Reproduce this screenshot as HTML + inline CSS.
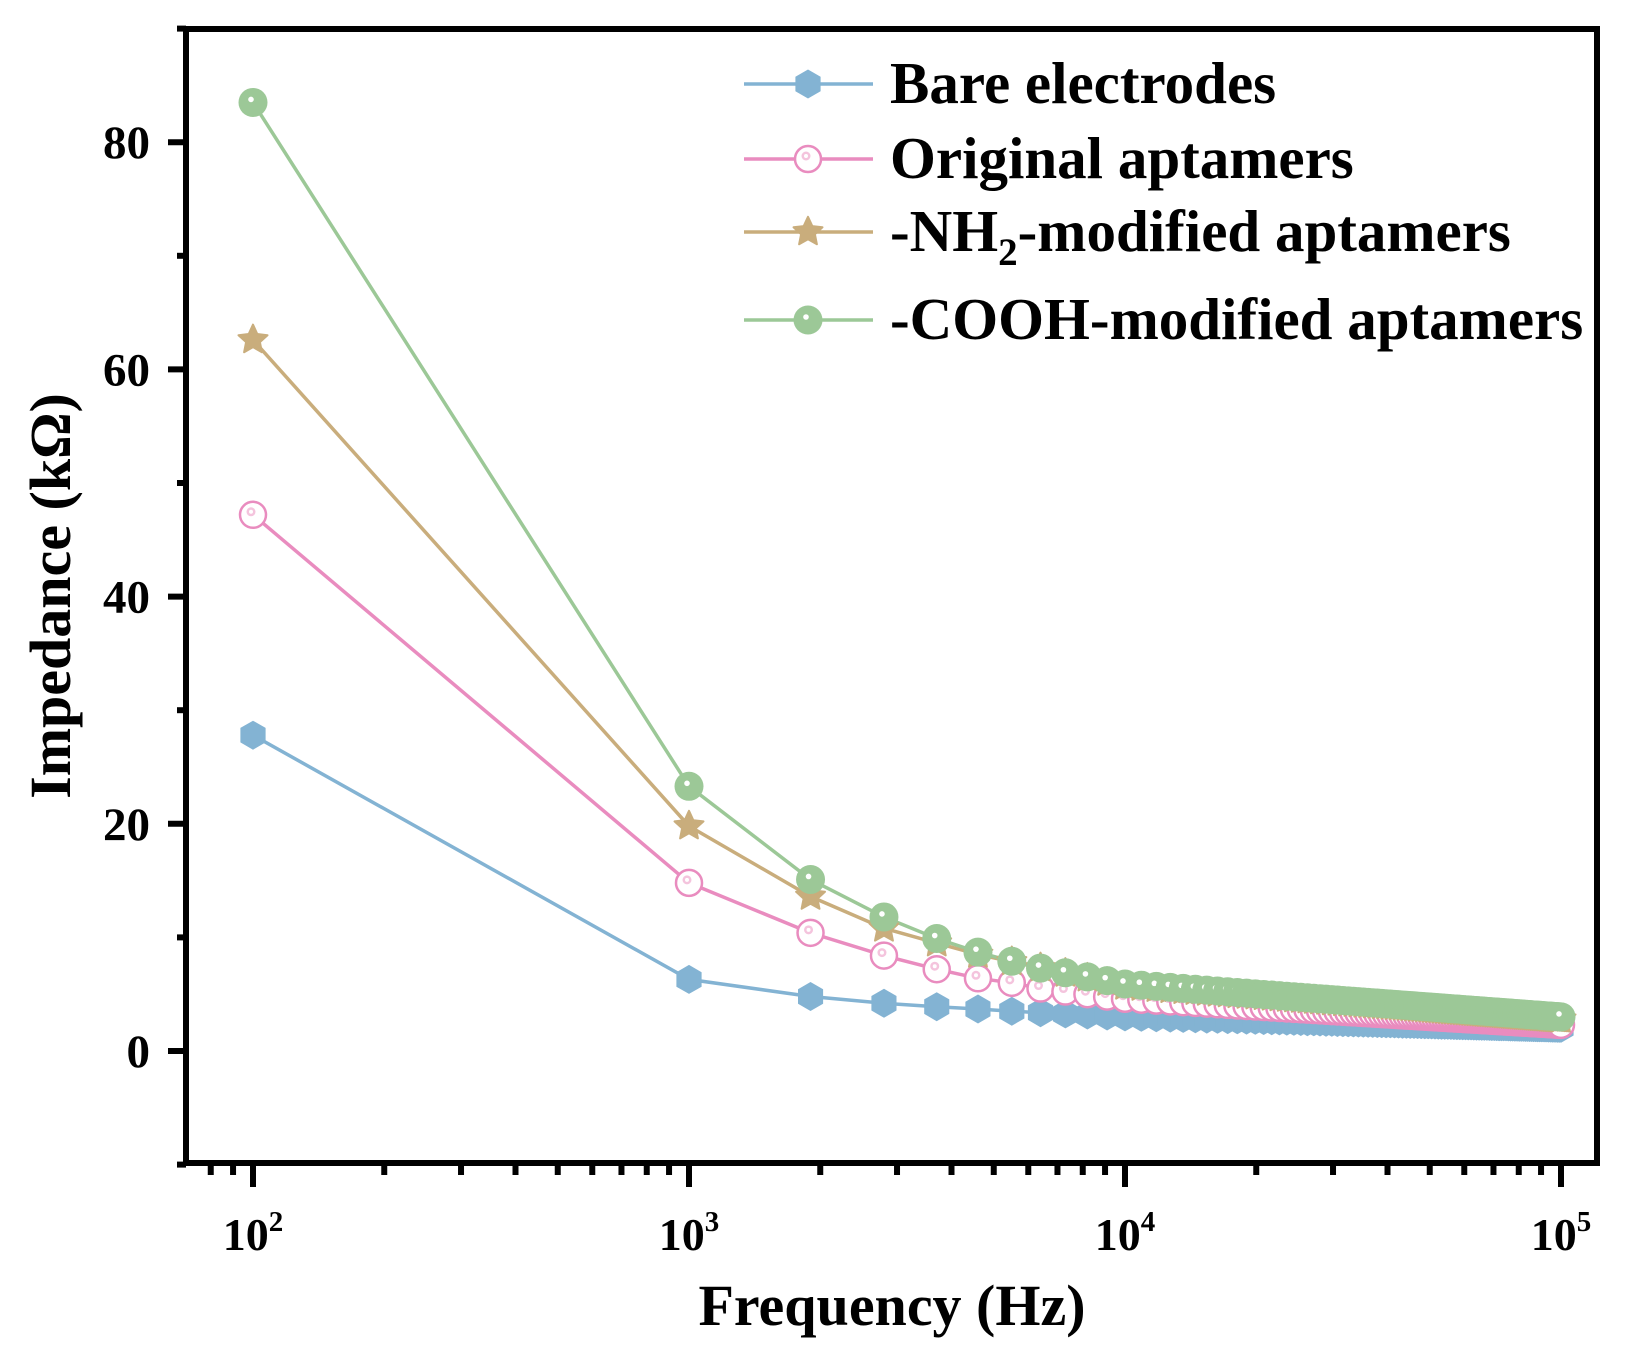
<!DOCTYPE html>
<html><head><meta charset="utf-8"><style>
html,body{margin:0;padding:0;background:#fff;}
svg{display:block;}
text{font-family:"Liberation Serif",serif;font-weight:bold;fill:#000;}
</style></head><body>
<svg id="s" width="1637" height="1348" viewBox="0 0 1637 1348" xmlns="http://www.w3.org/2000/svg">
<g id="data"></g>
<rect x="186" y="29" width="1411" height="1134" fill="none" stroke="#000" stroke-width="6"/>
<g id="ticks" stroke="#000" stroke-width="6"></g>
<g id="ylab" font-size="47"></g>
<g font-size="46">
<text x="253" y="1250" text-anchor="middle">10<tspan font-size="29" dy="-19">2</tspan></text>
<text x="689" y="1250" text-anchor="middle">10<tspan font-size="29" dy="-19">3</tspan></text>
<text x="1125" y="1250" text-anchor="middle">10<tspan font-size="29" dy="-19">4</tspan></text>
<text x="1561" y="1250" text-anchor="middle">10<tspan font-size="29" dy="-19">5</tspan></text>
</g>
<text x="892" y="1325" font-size="58" text-anchor="middle">Frequency (Hz)</text>
<text transform="translate(70,596) rotate(-90)" font-size="58" text-anchor="middle">Impedance (kΩ)</text>
<g id="legend"></g>
<g font-size="59">
<text x="890" y="103">Bare electrodes</text>
<text x="890" y="178">Original aptamers</text>
<text x="890" y="251">-NH<tspan font-size="39" dy="14">2</tspan><tspan dy="-14">-modified aptamers</tspan></text>
<text x="890" y="339">-COOH-modified aptamers</text>
</g>
</svg>
<script>
const NS="http://www.w3.org/2000/svg";
function X(f){return 253+(Math.log10(f)-2)*436;}
function Y(v){return 1051-v*11.36;}
function el(t,a,p){const e=document.createElementNS(NS,t);for(const k in a)e.setAttribute(k,a[k]);p.appendChild(e);return e;}
const tk=document.getElementById('ticks');
for(let v=-10;v<=90;v+=10){const maj=v%20==0;el('line',{x1:186-(maj?18:9),x2:186,y1:Y(v),y2:Y(v)},tk);}
const yl=document.getElementById('ylab');
[0,20,40,60,80].forEach(v=>{const t=el('text',{x:150,y:Y(v)+16,'text-anchor':'end'},yl);t.textContent=v;});
for(let d=1;d<=5;d++){for(let m=1;m<10;m++){const f=m*Math.pow(10,d);const x=X(f);if(x<186||x>1597)continue;el('line',{x1:x,x2:x,y1:1163,y2:1163+(m==1?24:12)},tk);}}
const fr=[100,1000];for(let f=1900;f<=100000;f+=900)fr.push(f);if(fr[fr.length-1]!=100000)fr.push(100000);
function interp(anch,f){const lf=Math.log10(f);for(let i=0;i<anch.length-1;i++){const a=anch[i],b=anch[i+1];const la=Math.log10(a[0]),lb=Math.log10(b[0]);if(lf>=la&&lf<=lb){const t=(lf-la)/(lb-la);return a[1]+t*(b[1]-a[1]);}}return anch[anch.length-1][1];}
const S=[
{c:'#83b3d3',m:'hex',a:[[100,27.8],[1000,6.3],[1900,4.8],[2800,4.2],[3700,3.9],[4600,3.7],[5500,3.5],[10000,3.0],[100000,2.0]]},
{c:'#e98cbf',m:'ocirc',a:[[100,47.2],[1000,14.8],[1900,10.4],[2800,8.4],[3700,7.2],[4600,6.4],[5500,6.0],[6400,5.5],[10000,4.6],[100000,2.3]]},
{c:'#c9ad7c',m:'star',a:[[100,62.6],[1000,19.8],[1900,13.6],[2800,10.8],[3700,9.5],[4600,8.5],[10000,5.7],[100000,2.8]]},
{c:'#9cc897',m:'circ',a:[[100,83.5],[1000,23.3],[1900,15.1],[2800,11.8],[3700,9.9],[4600,8.7],[5500,7.9],[6400,7.3],[10000,5.9],[100000,3.0]]}];
function marker(m,x,y,c,r,g){
 if(m=='hex'){let p=[];for(let i=0;i<6;i++){const a=Math.PI/3*i-Math.PI/2;p.push((x+r*Math.cos(a)).toFixed(1)+','+(y+r*Math.sin(a)).toFixed(1));}el('polygon',{points:p.join(' '),fill:c},g);}
 else if(m=='ocirc'){el('circle',{cx:x,cy:y,r:r-1.5,fill:'#fff',stroke:c,'stroke-width':2.5},g);el('circle',{cx:x-2,cy:y-3,r:4.5,fill:'#f4c4dd'},g);el('circle',{cx:x-2,cy:y-3,r:2,fill:'#fff'},g);}
 else if(m=='star'){let p=[];for(let i=0;i<10;i++){const rr=i%2?r*0.5:r*1.05;const a=Math.PI/5*i-Math.PI/2;p.push((x+rr*Math.cos(a)).toFixed(1)+','+(y+rr*Math.sin(a)).toFixed(1));}el('polygon',{points:p.join(' '),fill:c,'stroke':c,'stroke-width':2,'stroke-linejoin':'round'},g);}
 else {el('circle',{cx:x,cy:y,r:r,fill:c},g);el('circle',{cx:x-2,cy:y-3,r:2.8,fill:'#fff'},g);}
}
const dg=document.getElementById('data');
S.forEach(s=>{const pts=fr.map(f=>[X(f),Y(interp(s.a,f))]);el('polyline',{points:pts.map(p=>p[0].toFixed(1)+','+p[1].toFixed(1)).join(' '),fill:'none',stroke:s.c,'stroke-width':3.5},dg);});
S.forEach(s=>{const g=el('g',{},dg);fr.forEach(f=>marker(s.m,X(f),Y(interp(s.a,f)),s.c,14.5,g));});
const lg=document.getElementById('legend');const ly=[84,159,232,320];
S.forEach((s,i)=>{el('line',{x1:744,x2:873,y1:ly[i],y2:ly[i],stroke:s.c,'stroke-width':3.5},lg);marker(s.m,808,ly[i],s.c,14.5,lg);});
</script>
</body></html>
